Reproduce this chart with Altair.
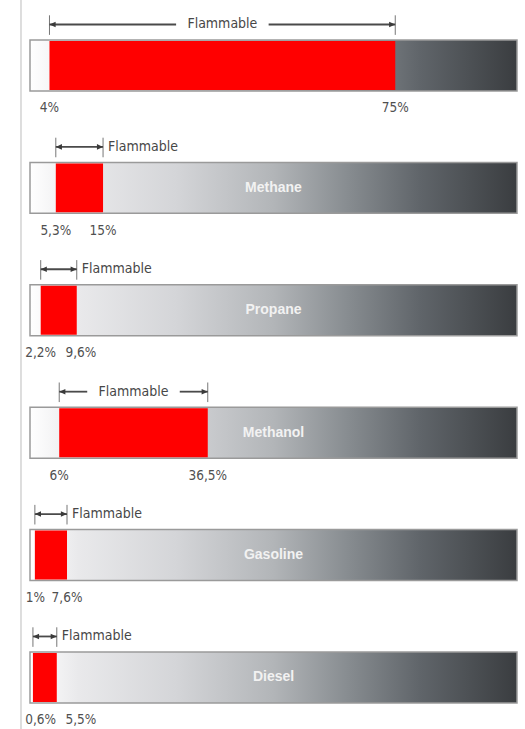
import altair as alt
import pandas as pd

# ---- data ----
fuels = ["Hydrogen", "Methane", "Propane", "Methanol", "Gasoline", "Diesel"]
names_shown = ["", "Methane", "Propane", "Methanol", "Gasoline", "Diesel"]
lower = [4, 5.3, 2.2, 6, 1, 0.6]
upper = [75, 15, 9.6, 36.5, 7.6, 5.5]
lower_txt = ["4%", "5,3%", "2,2%", "6%", "1%", "0,6%"]
upper_txt = ["75%", "15%", "9,6%", "36,5%", "7,6%", "5,5%"]
flam_word = "Flammable"

FONT = "Liberation Sans Narrow, DejaVu Sans Condensed, Liberation Sans, sans-serif"

rows = []
for i, f in enumerate(fuels):
    lo, up = lower[i], upper[i]
    lo_lab = max(lo, len(lower_txt[i]) * 0.55)
    up_lab = max(up, lo_lab + (len(lower_txt[i]) + len(upper_txt[i])) * 1.03)
    rows.append(dict(fuel=f, row=i, name=names_shown[i], lo=lo, up=up,
                     lo_txt=lower_txt[i], up_txt=upper_txt[i],
                     lo_lab=lo_lab, up_lab=up_lab,
                     mid=(lo + up) / 2, wide=(up - lo) > 20,
                     flam=flam_word, zero=0, full=100))
df = pd.DataFrame(rows)

# arrow line segments (split around the word when it sits in the middle)
segs = []
for r in rows:
    if r["wide"]:
        segs.append(dict(row=r["row"], a=r["lo"], b=r["mid"] - 9.5))
        segs.append(dict(row=r["row"], a=r["mid"] + 9.5, b=r["up"]))
    else:
        segs.append(dict(row=r["row"], a=r["lo"], b=r["up"]))
seg_df = pd.DataFrame(segs)

ends = []
for r in rows:
    ends.append(dict(row=r["row"], v=r["lo"], side="L"))
    ends.append(dict(row=r["row"], v=r["up"], side="R"))
end_df = pd.DataFrame(ends)

xs = alt.Scale(domain=[0, 100])
ys = alt.Scale(domain=[-0.535, 5.421], reverse=True)

def X(field):
    return alt.X(field, type="quantitative", scale=xs, axis=None)

def Y(field):
    return alt.Y(field, type="quantitative", scale=ys, axis=None)

grad = alt.Gradient(
    gradient="linear",
    x1=0, x2=1, y1=0, y2=0,
    stops=[
        alt.GradientStop(color="#ffffff", offset=0),
        alt.GradientStop(color="#e9e9eb", offset=0.1),
        alt.GradientStop(color="#d4d5d8", offset=0.3),
        alt.GradientStop(color="#b2b5b8", offset=0.5),
        alt.GradientStop(color="#888d91", offset=0.65),
        alt.GradientStop(color="#60656a", offset=0.8),
        alt.GradientStop(color="#3a3d40", offset=1),
    ],
)

base = alt.Chart(df)

bars = base.transform_calculate(
    yt="datum.row - 0.208", yb="datum.row + 0.208"
).mark_rect(color=grad, stroke="#9a9a9a", strokeWidth=1.5).encode(
    x=X("zero"), x2="full", y=Y("yt:Q"), y2="yb:Q"
)

red = base.transform_calculate(
    yt="datum.row - 0.2", yb="datum.row + 0.2"
).mark_rect(color="#ff0000").encode(
    x=X("lo"), x2="up", y=Y("yt:Q"), y2="yb:Q"
)

ticks = alt.Chart(end_df).transform_calculate(
    yt="datum.row - 0.41", yb="datum.row - 0.25"
).mark_rule(color="#777777", strokeWidth=1).encode(
    x=X("v"), y=Y("yt:Q"), y2="yb:Q"
)

lines = alt.Chart(seg_df).transform_calculate(
    yy="datum.row - 0.335"
).mark_rule(color="#4a4a4a", strokeWidth=1.8).encode(
    x=X("a"), x2="b", y=Y("yy:Q")
)

heads_l = alt.Chart(end_df).transform_filter("datum.side == 'L'").transform_calculate(
    yy="datum.row - 0.335"
).mark_point(filled=True, color="#3a3a3a", opacity=1, size=150,
             shape="M0,0L1,-0.45L1,0.45Z").encode(x=X("v"), y=Y("yy:Q"))

heads_r = alt.Chart(end_df).transform_filter("datum.side == 'R'").transform_calculate(
    yy="datum.row - 0.335"
).mark_point(filled=True, color="#3a3a3a", opacity=1, size=150,
             shape="M0,0L-1,-0.45L-1,0.45Z").encode(x=X("v"), y=Y("yy:Q"))

flam_c = base.transform_filter("datum.wide").transform_calculate(
    yy="datum.row - 0.335"
).mark_text(font=FONT, fontSize=14, color="#474747", align="center",
            baseline="middle").encode(x=X("mid"), y=Y("yy:Q"), text="flam")

flam_r = base.transform_filter("!datum.wide").transform_calculate(
    yy="datum.row - 0.335"
).mark_text(font=FONT, fontSize=14, color="#474747", align="left",
            baseline="middle", dx=5).encode(x=X("up"), y=Y("yy:Q"), text="flam")

lab_lo = base.transform_calculate(yy="datum.row + 0.35").mark_text(
    font=FONT, fontSize=13.5, color="#505050", align="center", baseline="middle"
).encode(x=X("lo_lab"), y=Y("yy:Q"), text="lo_txt")

lab_up = base.transform_calculate(yy="datum.row + 0.35").mark_text(
    font=FONT, fontSize=13.5, color="#505050", align="center", baseline="middle"
).encode(x=X("up_lab"), y=Y("yy:Q"), text="up_txt")

names = base.transform_calculate(mid50="50").mark_text(
    font="Liberation Sans, Arial, sans-serif", fontSize=14, fontWeight="bold",
    color="#f2f2f2", align="center", baseline="middle"
).encode(x=X("mid50:Q"), y=Y("row"), text="name")

edge = alt.Chart(df).mark_rule(color="#dddddd", strokeWidth=1).encode(
    x=alt.value(-9), y=alt.value(0), y2=alt.value(729)
)

chart = alt.layer(
    edge, bars, red, ticks, lines, heads_l, heads_r, flam_c, flam_r,
    lab_lo, lab_up, names
).properties(
    width=487, height=729,
    autosize=alt.AutoSizeParams(type="none"),
    padding={"left": 30, "right": 8, "top": 0, "bottom": 0},
    background="white",
).configure_view(stroke=None)

chart.save("out.html", embed_options={"renderer": "svg", "actions": False})
